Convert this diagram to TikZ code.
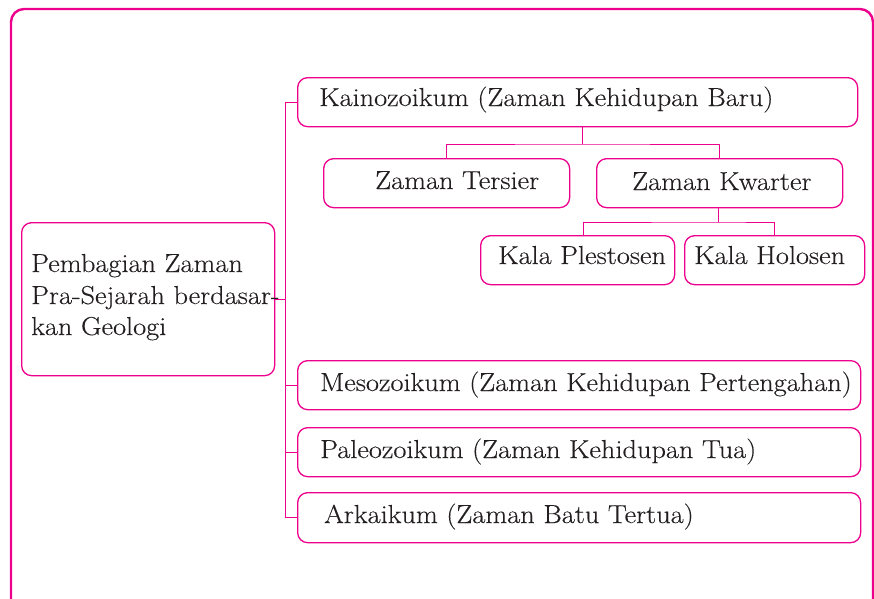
\documentclass[tikz,border=0pt]{standalone}
\usepackage{fontspec}
\setmainfont{Latin Modern Roman}[FakeStretch=1.09, FakeBold=0.25]
\usepackage{xcolor}
\definecolor{mag}{HTML}{EC008C}
\definecolor{ink}{HTML}{231F20}
\tikzset{
  box/.style={draw=mag, line width=1.3pt, rounded corners=10pt, anchor=north west, inner sep=0pt},
  lbl/.style={anchor=base west, inner sep=0pt, text=ink, font=\fontsize{26}{31.5}\selectfont},
  conn/.style={draw=mag, line width=1pt},
  frame/.style={draw=mag, line width=2.4pt, rounded corners=13pt}
}
\begin{document}
\begin{tikzpicture}[x=1pt,y=-1pt]
\useasboundingbox (0,0) rectangle (874,598);
\begin{scope}
\clip (0,0) rectangle (874,598);
\draw[frame] (11,9) rectangle (873,640);
\end{scope}
% boxes
\node[box, minimum width=253pt, minimum height=153pt] (main) at (21,222) {};
\node[box, minimum width=560pt, minimum height=49pt] (kaino) at (297,77) {};
\node[box, minimum width=246pt, minimum height=49pt] (tersier) at (323,158) {};
\node[box, minimum width=246pt, minimum height=49pt] (kwarter) at (596,158) {};
\node[box, minimum width=194pt, minimum height=49pt] (plest) at (480,235) {};
\node[box, minimum width=180pt, minimum height=49pt] (holo) at (684,235) {};
\node[box, minimum width=563pt, minimum height=49pt] (meso) at (297,360) {};
\node[box, minimum width=563pt, minimum height=49pt] (paleo) at (297,427) {};
\node[box, minimum width=563pt, minimum height=50pt] (arka) at (297,492) {};
% labels
\node[lbl] (tmain1) at (31,272) {Pembagian Zaman};
\node[lbl] (tmain2) at (31,304) {Pra-Sejarah berdasar-};
\node[lbl] (tmain3) at (31,335) {kan Geologi};
\node[lbl] (tkaino) at (319,106) {Kainozoikum (Zaman Kehidupan Baru)};
\node[lbl] (ttersier) at (375,189) {Zaman Tersier};
\node[lbl] (tkwarter) at (632,190) {Zaman Kwarter};
\node[lbl] (tplest) at (498,264) {Kala Plestosen};
\node[lbl] (tholo) at (694,264) {Kala Holosen};
\node[lbl] (tmeso) at (320,391) {Mesozoikum (Zaman Kehidupan Pertengahan)};
\node[lbl] (tpaleo) at (320,458) {Paleozoikum (Zaman Kehidupan Tua)};
\node[lbl] (tarka) at (324,523) {Arkaikum (Zaman Batu Tertua)};
% connectors
\coordinate (tk) at (285,0);
\draw[conn] (kaino.west) -- (kaino.west -| tk) -- (arka.west -| tk) -- (arka.west);
\draw[conn] (main.east) -- (main.east -| tk);
\draw[conn] (meso.west) -- (meso.west -| tk);
\draw[conn] (paleo.west) -- (paleo.west -| tk);
\coordinate (j1) at (582,144);
\draw[conn] (kaino.south -| j1) -- (j1);
\draw[conn] (tersier.north) |- (j1) -| (kwarter.north);
\coordinate (j2) at (718,222);
\draw[conn] (kwarter.south -| j2) -- (j2);
\draw[conn] ([xshift=6pt]plest.north) |- (j2) -| (holo.north);
\end{tikzpicture}
\end{document}
